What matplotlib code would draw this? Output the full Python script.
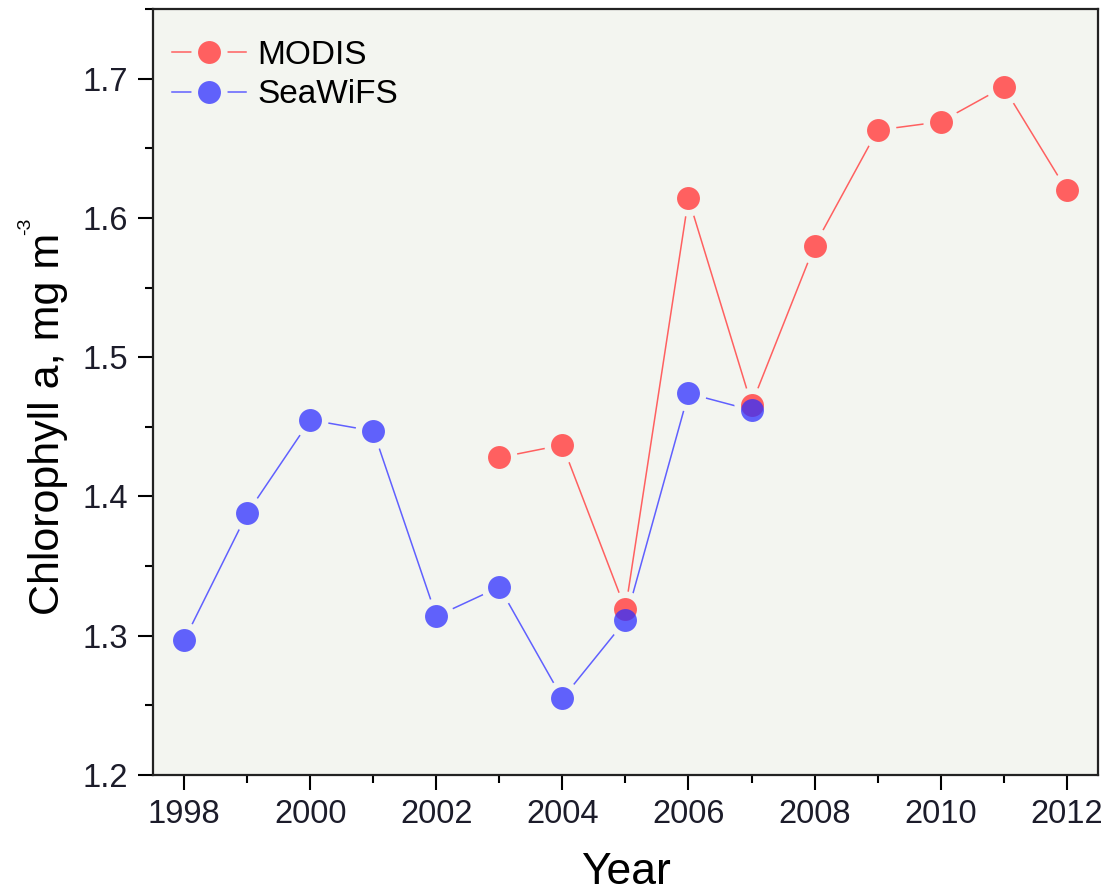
import matplotlib
matplotlib.use("Agg")
import matplotlib.pyplot as plt
from matplotlib.lines import Line2D
from matplotlib.legend_handler import HandlerTuple
from matplotlib.ticker import MultipleLocator, FormatStrFormatter

# annual mean chlorophyll a (mg m^-3)
seawifs_years = [1998, 1999, 2000, 2001, 2002, 2003, 2004, 2005, 2006, 2007]
seawifs_chl = [1.297, 1.388, 1.455, 1.447, 1.314, 1.335, 1.255, 1.311, 1.474, 1.462]

modis_years = [2003, 2004, 2005, 2006, 2007, 2008, 2009, 2010, 2011, 2012]
modis_chl = [1.428, 1.437, 1.319, 1.614, 1.466, 1.580, 1.663, 1.669, 1.694, 1.620]

BG = '#f3f5f0'
RED = '#ff6060'
BLUE_LINE = '#6060ff'
BLUE = '#2f2fff'   # drawn semi-transparent so overlaps show through

plt.rcParams['font.family'] = ['Liberation Sans', 'DejaVu Sans']

fig = plt.figure(figsize=(11.07, 8.94), dpi=100)
ax = fig.add_axes([0.138, 0.133, 0.854, 0.857])
ax.set_facecolor(BG)

ms, gap_ms = 16.5, 26
# connecting lines
ax.plot(modis_years, modis_chl, color=RED, lw=1.1, zorder=2)
ax.plot(seawifs_years, seawifs_chl, color=BLUE_LINE, lw=1.1, zorder=2)
# background-coloured discs leave a small gap between line and marker
ax.plot(modis_years, modis_chl, ls='none', marker='o', ms=gap_ms, mfc=BG, mec='none', zorder=3)
ax.plot(seawifs_years, seawifs_chl, ls='none', marker='o', ms=gap_ms, mfc=BG, mec='none', zorder=3)
ax.plot(modis_years, modis_chl, ls='none', marker='o', ms=ms, mfc=RED, mec='none', zorder=4)
ax.plot(seawifs_years, seawifs_chl, ls='none', marker='o', ms=ms, mfc=BLUE, mec='none',
        alpha=0.75, zorder=5)

ax.set_xlim(1997.5, 2012.5)
ax.set_ylim(1.2, 1.75)
ax.xaxis.set_major_locator(MultipleLocator(2))
ax.xaxis.set_minor_locator(MultipleLocator(1))
ax.yaxis.set_major_locator(MultipleLocator(0.1))
ax.yaxis.set_minor_locator(MultipleLocator(0.05))
ax.yaxis.set_major_formatter(FormatStrFormatter('%.1f'))

ax.tick_params(which='major', direction='out', length=11, width=1.5, labelsize=23.5,
               labelcolor='#1c1c2a', top=False, right=False)
ax.tick_params(which='minor', direction='out', length=6, width=1.5, top=False, right=False)
ax.tick_params(axis='y', which='major', pad=7)
ax.tick_params(axis='x', which='major', pad=6)
for sp in ax.spines.values():
    sp.set_linewidth(1.6)
    sp.set_color('#222222')

ax.set_xlabel('Year', fontsize=32)
ax.xaxis.set_label_coords(0.5, -0.1)
ax.set_ylabel('Chlorophyll a, mg m', fontsize=31)
ax.yaxis.set_label_coords(-0.09, 0.458)


def legend_entry(color, line_color, alpha):
    ln = Line2D([], [], color=line_color, lw=1.1)
    gap = Line2D([], [], ls='none', marker='o', ms=gap_ms, mfc=BG, mec='none')
    mk = Line2D([], [], ls='none', marker='o', ms=ms, mfc=color, mec='none', alpha=alpha)
    return (ln, gap, mk)


ax.legend([legend_entry(RED, RED, 1.0), legend_entry(BLUE, BLUE_LINE, 0.75)],
          ['MODIS', 'SeaWiFS'],
          handler_map={tuple: HandlerTuple(ndivide=1)}, frameon=False, fontsize=24,
          loc='upper left', bbox_to_anchor=(-0.004, 0.99), handlelength=2.2,
          handletextpad=0.35, labelspacing=0.25, borderaxespad=0.3)

# small "-3" exponent placed just past the end of the y label
fig.canvas.draw()
bb = ax.yaxis.label.get_window_extent()
W, H = fig.bbox.width, fig.bbox.height
fig.text((bb.x0 - 2) / W, (bb.y1 - 2) / H, '-3', fontsize=14, rotation=90,
         ha='center', va='bottom')

fig.savefig('out.png', dpi=100, facecolor='white')
